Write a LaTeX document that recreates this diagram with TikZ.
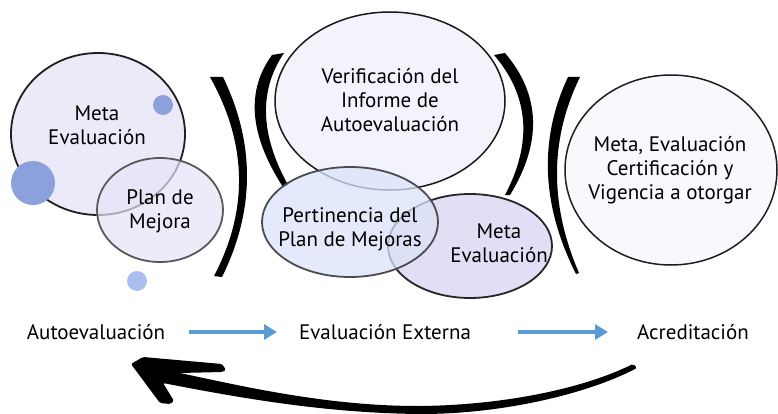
\documentclass[tikz,border=0pt]{standalone}
\usepackage{fontspec}
\setmainfont{PT Sans}
\usetikzlibrary{arrows.meta}
\definecolor{lavA}{HTML}{ECEAF9}
\definecolor{lavB}{HTML}{E6E3F7}
\definecolor{verif}{HTML}{F3F3FB}
\definecolor{pert}{HTML}{DCE3FA}
\definecolor{metaM}{HTML}{E2DEF6}
\definecolor{acr}{HTML}{F8F8FD}
\definecolor{dotA}{HTML}{8CA1DC}
\definecolor{dotB}{HTML}{A9BFF2}
\definecolor{bluearrow}{HTML}{5B9BD5}
\tikzset{
  lbl/.style={font=\fontsize{21}{24}\selectfont, align=center, inner sep=0pt, text=black},
  bubble/.style={line width=1.8pt},
  bracketfill/.style={fill=black, draw=none},
  flowarrow/.style={draw=bluearrow, line width=3.8pt, -{Triangle[length=13pt,width=15pt]}},
}
\begin{document}
\begin{tikzpicture}[x=1pt,y=-1pt]
\useasboundingbox (0,0) rectangle (778,414);
\fill[white] (0,0) rectangle (778,414);

% brackets
\path[bracketfill] (223,77) .. controls (255.3,143.7) and (255,210.3) .. (222,277) -- (214,276) .. controls (248.7,210) and (247.3,143.7) .. (210,77) -- cycle;
\path[bracketfill] (272,55) .. controls (245.7,91) and (249.3,135) .. (283,187) -- (288,185) .. controls (260,134.3) and (258.7,90.3) .. (284,53) -- cycle;
\path[bracketfill] (505,53) .. controls (540.7,95) and (542.3,142.3) .. (510,195) -- (505,195) .. controls (532.7,142.3) and (529,95.7) .. (494,55) -- cycle;
\path[bracketfill] (568,77) .. controls (538.7,139.3) and (541.3,205) .. (576,274) -- (579,273) .. controls (549.3,204.3) and (549.7,139) .. (580,77) -- cycle;

% left group
\draw[bubble, draw=black!88, fill=lavA] (98,134) ellipse [x radius=87, y radius=81];
\fill[dotA] (163,105) circle (10);
\fill[dotA] (33,183) circle (22);
\fill[dotB] (137,281) circle (10);
\draw[bubble, draw=black!65, fill=lavB, fill opacity=0.7] (160,210) ellipse [x radius=63, y radius=52];
\node[lbl] (metaL) at (97,125) {Meta\\Evaluación};
\node[lbl] (plan) at (160,211) {Plan de\\Mejora};

% middle group
\draw[line width=1.5pt, draw=black!90, fill=verif] (390,101) ellipse [x radius=115, y radius=89];
\draw[bubble, draw=black!85, fill=metaM] (470,246) ellipse [x radius=82, y radius=52];
\draw[bubble, draw=black!70, fill=pert, fill opacity=0.75] (350,222) ellipse [x radius=88, y radius=55];
\node[lbl] (verif) at (390,100) {Verificación del\\Informe de\\Autoevaluación};
\node[lbl] (pert) at (350,229) {Pertinencia del\\Plan de Mejoras};
\node[lbl] (metaM) at (499,243) {Meta\\Evaluación};

% right group
\draw[line width=1.5pt, draw=black!88, fill=acr] (671,170) ellipse [x radius=106, y radius=95];
\node[lbl] (acrtxt) at (670,170) {Meta, Evaluación\\Certificación y\\Vigencia a otorgar};

% bottom flow
\node[lbl] (auto) at (96,332) {Autoevaluación};
\node[lbl] (ext) at (385,332) {Evaluación Externa};
\node[lbl] (acred) at (693,332) {Acreditación};
\draw[flowarrow, shorten <=93pt, shorten >=108pt] (auto.center) -- (ext.center);
\draw[flowarrow, shorten <=133pt, shorten >=85pt] (ext.center) -- (acred.center);

% return arrow
\coordinate (tail) at (633,364);
\coordinate (tip) at (131,364);
\fill[black, rounded corners=1.5pt] (tip) -- (143,357) -- (222,364) -- (226,370) -- (222,372)
  -- (180,373) .. controls (250,388) and (330,406) .. (420,406)
  .. controls (500,405) and (580,390) .. (tail) -- (637,368)
  .. controls (585,395) and (500,414) .. (420,414)
  .. controls (330,413) and (250,400) .. (163,383)
  -- (174,401) -- (170,404) -- (160,403) -- cycle;
\end{tikzpicture}
\end{document}
